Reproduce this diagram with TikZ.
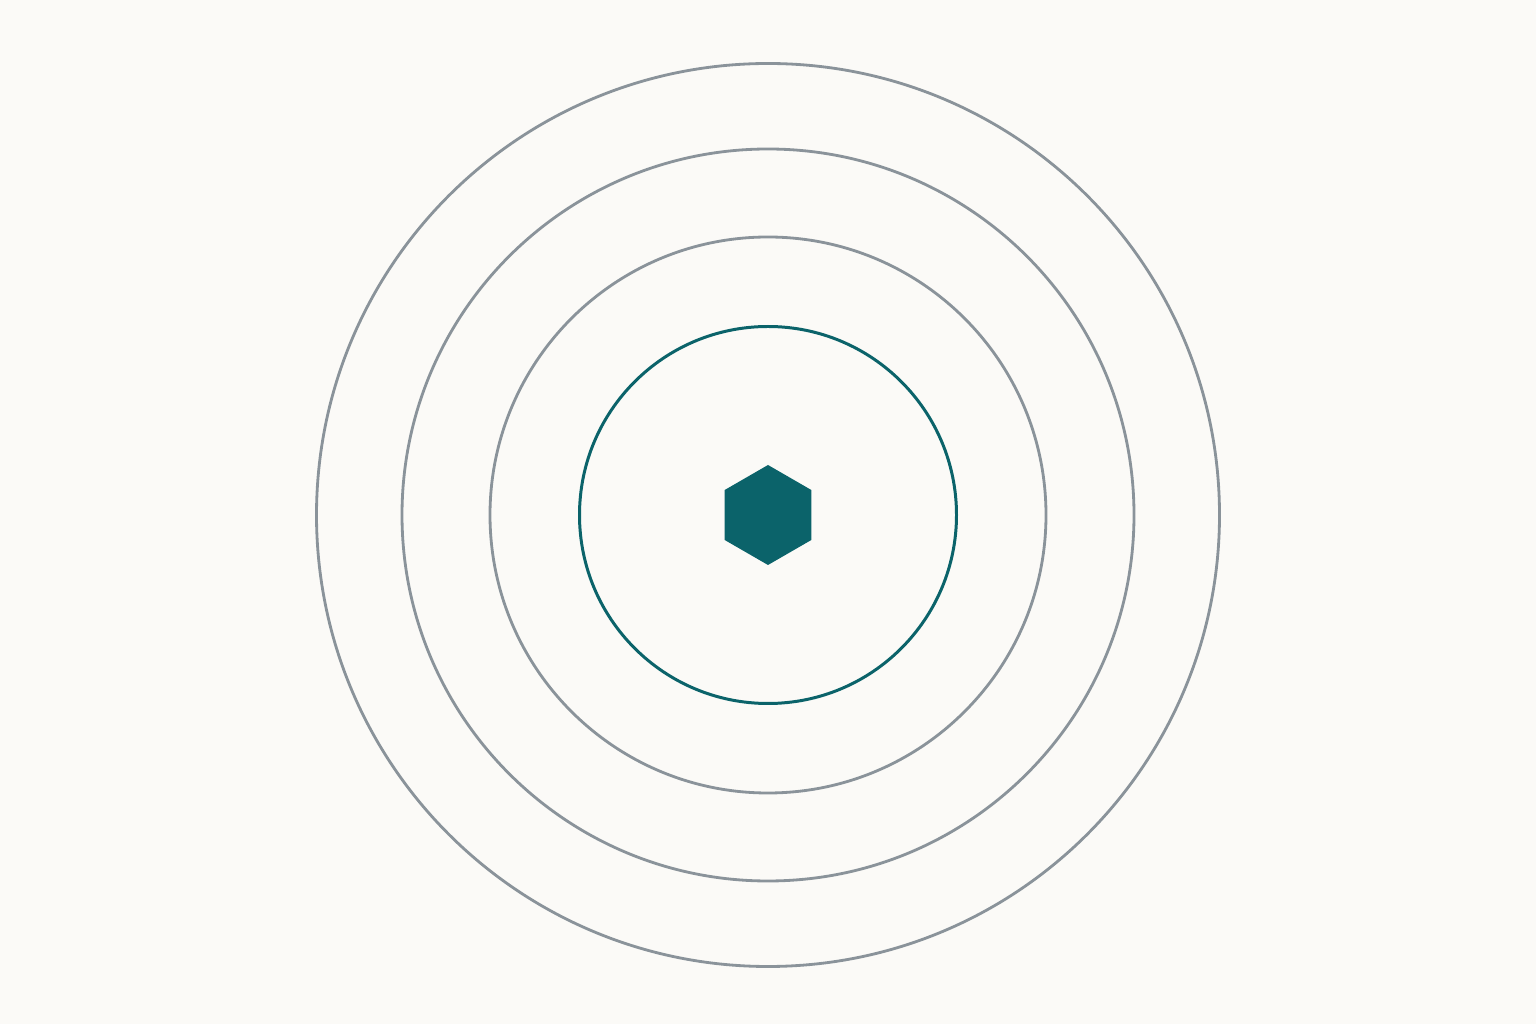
\documentclass[tikz,border=0pt]{standalone}
\usepackage{tikz}
\definecolor{paper}{HTML}{FBFAF7}
\definecolor{ringgray}{HTML}{8A939A}
\definecolor{coreteal}{HTML}{0B636A}

\begin{document}
\begin{tikzpicture}[x=0.01cm,y=0.01cm]%[y=1cm,x=1cm]
				\fill[paper] (0,0) rectangle (1536,1024);
				\useasboundingbox (0,0) rectangle (1536,1024);
				\coordinate (center) at (768,509);
				 \foreach \r in {278,366,451.5}
				 \draw[ringgray,line width=0.8pt] (center) circle[radius=\r];
				 \draw[coreteal,line width=0.85pt] (center) circle[radius=188.5];
				 \fill[coreteal] (center) ++(90:50) -- ++(210:50) -- ++(270:50) -- ++(330:50) -- ++(30:50) -- ++(90:50) -- cycle;
         	\end{tikzpicture}
\end{document}
